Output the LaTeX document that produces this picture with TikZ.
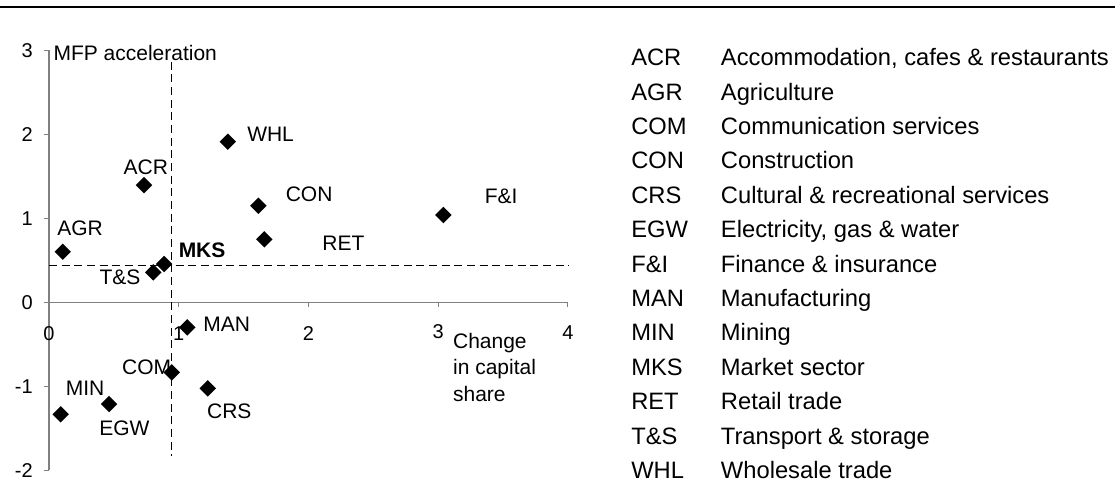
\documentclass[tikz,border=0pt]{standalone}
\usepackage{fontspec}
\setmainfont{Liberation Sans}
\usetikzlibrary{shapes.geometric}

\begin{document}
\begin{tikzpicture}[x=0.75pt,y=0.75pt,
  axis/.style={draw=black!50,line width=0.8pt},
  refline/.style={dash pattern=on 6pt off 3.5pt,line width=1.1pt},
  sector/.style={diamond,fill=black,inner sep=0pt,minimum size=12.5pt},
  lbl/.style={inner sep=0pt,font=\fontsize{15.75}{19.7}\selectfont},
  ticklbl/.style={inner sep=0pt,font=\fontsize{15}{18}\selectfont},
  keyrow/.style={anchor=base west,inner sep=0pt,font=\fontsize{17.8}{21}\selectfont}]
\useasboundingbox (0,0) rectangle (1115,483);
\draw[line width=1.5pt] (0,476) -- (1115,476);

\begin{scope}[shift={(36.75pt,135.5pt)},x=97.3pt,y=63pt]
%axes
\draw[axis] (0,-2) -- (0,3);
\draw[axis] (0,0) -- (4,0);
\draw[axis] (0,-2) -- ++(-3.75pt,0) (0,-1) -- ++(-3.75pt,0) (0,0) -- ++(-3.75pt,0)
            (0,1) -- ++(-3.75pt,0) (0,2) -- ++(-3.75pt,0) (0,3) -- ++(-3.75pt,0);
\draw[axis] (0,0) -- ++(0,-3.75pt) (1,0) -- ++(0,-3.75pt) (2,0) -- ++(0,-3.75pt)
            (3,0) -- ++(0,-3.75pt) (4,0) -- ++(0,-3.75pt);
\node[ticklbl,anchor=east] (y-2) at (-0.123,-2) {-2};
\node[ticklbl,anchor=east] (y-1) at (-0.123,-1) {-1};
\node[ticklbl,anchor=east] (y0) at (-0.123,0) {0};
\node[ticklbl,anchor=east] (y1) at (-0.123,1) {1};
\node[ticklbl,anchor=east] (y2) at (-0.123,2) {2};
\node[ticklbl,anchor=east] (y3) at (-0.123,3) {3};
\node[ticklbl] (x0) at (0,-0.369) {0};
\node[ticklbl] (x1) at (1,-0.369) {1};
\node[ticklbl] (x2) at (2,-0.369) {2};
\node[ticklbl] (x3) at (3,-0.35) {3};
\node[ticklbl] (x4) at (4,-0.36) {4};
\node[lbl,anchor=base west] (ytitle) at (0.033,2.875) {MFP acceleration};
\node[lbl,anchor=north west,align=left] (xtitle) at (3.113,-0.365) {Change\\in capital\\share};
%market sector averages
\draw[refline] (0,0.436) -- (4.01,0.436);
\draw[refline] (0.946,2.864) -- (0.946,-1.83);
%sectors
\node[sector] (whl) at (1.378,1.912) {};
\node[sector] (acr) at (0.732,1.396) {};
\node[sector] (con) at (1.614,1.150) {};
\node[sector] (ret) at (1.660,0.750) {};
\node[sector] (fai) at (3.040,1.039) {};
\node[sector] (agr) at (0.106,0.602) {};
\node[sector] (mks) at (0.887,0.456) {};
\node[sector] (tas) at (0.804,0.357) {};
\node[sector] (man) at (1.066,-0.298) {};
\node[sector] (com) at (0.946,-0.833) {};
\node[sector] (crs) at (1.224,-1.024) {};
\node[sector] (egw) at (0.463,-1.211) {};
\node[sector] (min) at (0.090,-1.333) {};
\node[lbl] (whl-l) at (1.708,2.004) {WHL};
\node[lbl] (acr-l) at (0.746,1.607) {ACR};
\node[lbl] (con-l) at (2.005,1.286) {CON};
\node[lbl] (fai-l) at (3.485,1.257) {F\&I};
\node[lbl] (ret-l) at (2.269,0.702) {RET};
\node[lbl] (agr-l) at (0.239,0.881) {AGR};
\node[lbl] (mks-l) at (1.180,0.623) {\bfseries MKS};
\node[lbl] (tas-l) at (0.547,0.298) {T\&S};
\node[lbl] (man-l) at (1.370,-0.258) {MAN};
\node[lbl] (com-l) at (0.753,-0.774) {COM};
\node[lbl] (crs-l) at (1.390,-1.302) {CRS};
\node[lbl] (egw-l) at (0.581,-1.500) {EGW};
\node[lbl] (min-l) at (0.278,-1.024) {MIN};
\end{scope}

%legend
\node[keyrow] (k-acr) at (631,417.3) {ACR};
\node[keyrow] (k-agr) at (631,382.9) {AGR};
\node[keyrow] (k-com) at (631,348.5) {COM};
\node[keyrow] (k-con) at (631,314.1) {CON};
\node[keyrow] (k-crs) at (631,279.7) {CRS};
\node[keyrow] (k-egw) at (631,245.3) {EGW};
\node[keyrow] (k-fai) at (631,210.9) {F\&I};
\node[keyrow] (k-man) at (631,176.5) {MAN};
\node[keyrow] (k-min) at (631,142.1) {MIN};
\node[keyrow] (k-mks) at (631,107.7) {MKS};
\node[keyrow] (k-ret) at (631,73.3) {RET};
\node[keyrow] (k-tas) at (631,38.9) {T\&S};
\node[keyrow] (k-whl) at (631,4.5) {WHL};
\node[keyrow] (d-acr) at (720.7,417.3) {Accommodation, cafes \& restaurants};
\node[keyrow] (d-agr) at (720.7,382.9) {Agriculture};
\node[keyrow] (d-com) at (720.7,348.5) {Communication services};
\node[keyrow] (d-con) at (720.7,314.1) {Construction};
\node[keyrow] (d-crs) at (720.7,279.7) {Cultural \& recreational services};
\node[keyrow] (d-egw) at (720.7,245.3) {Electricity, gas \& water};
\node[keyrow] (d-fai) at (720.7,210.9) {Finance \& insurance};
\node[keyrow] (d-man) at (720.7,176.5) {Manufacturing};
\node[keyrow] (d-min) at (720.7,142.1) {Mining};
\node[keyrow] (d-mks) at (720.7,107.7) {Market sector};
\node[keyrow] (d-ret) at (720.7,73.3) {Retail trade};
\node[keyrow] (d-tas) at (720.7,38.9) {Transport \& storage};
\node[keyrow] (d-whl) at (720.7,4.5) {Wholesale trade};
\end{tikzpicture}
\end{document}
